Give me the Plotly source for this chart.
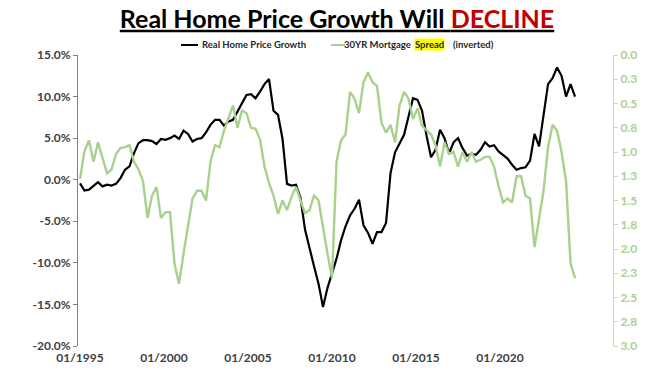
import plotly.graph_objects as go

# ---- data (sampled every 3 months starting 01/1995) ----
real_home_price_growth = [
    -0.45, -1.3, -1.2, -0.7, -0.3, -0.8, -0.6, -0.7, -0.5, 0.2,
    1.2, 1.6, 3.2, 4.4, 4.75, 4.75, 4.65, 4.3, 4.9, 4.8,
    5.0, 5.3, 4.9, 5.9, 5.5, 4.6, 4.9, 5.0, 5.7, 6.6,
    7.2, 7.2, 6.5, 7.0, 7.2, 8.2, 9.2, 10.2, 10.3, 9.8,
    10.6, 11.5, 12.1, 8.3, 7.8, 4.9, -0.5, -0.7, -0.6, -2.2,
    -6.0, -8.4, -10.4, -12.5, -15.3, -13.0, -11.3, -9.5, -7.3, -5.6,
    -4.3, -3.5, -2.4, -5.5, -6.4, -7.7, -6.3, -6.3, -5.2, 0.8,
    3.3, 4.4, 5.4, 7.6, 9.8, 9.6, 8.3, 5.3, 2.7, 3.6,
    6.0, 5.0, 3.15, 4.5, 5.0, 3.8, 2.9, 3.1, 3.0, 3.6,
    4.5, 4.0, 4.15, 3.4, 3.0, 2.55, 1.8, 1.2, 1.4, 1.5,
    2.3, 5.5, 4.0, 8.0, 11.5, 12.2, 13.5, 12.5, 10.0, 11.5,
    10.0,
]
mortgage_spread = [
    1.28, 0.99, 0.88, 1.10, 0.90, 1.05, 1.22, 1.18, 1.02, 0.96,
    0.95, 0.93, 1.10, 1.18, 1.30, 1.68, 1.45, 1.36, 1.68, 1.62,
    1.62, 2.15, 2.36, 2.05, 1.75, 1.48, 1.40, 1.40, 1.50, 1.10,
    0.93, 0.95, 0.78, 0.66, 0.52, 0.75, 0.57, 0.60, 0.75, 0.76,
    0.87, 1.15, 1.32, 1.45, 1.64, 1.50, 1.60, 1.46, 1.36, 1.50,
    1.63, 1.60, 1.45, 1.50, 1.80, 2.05, 2.30, 1.10, 0.88, 0.82,
    0.38, 0.45, 0.60, 0.28, 0.18, 0.28, 0.32, 0.70, 0.80, 0.72,
    0.90, 0.52, 0.38, 0.45, 0.66, 0.55, 0.73, 0.78, 0.82, 0.93,
    1.15, 0.90, 1.02, 1.00, 1.15, 1.00, 1.10, 1.00, 1.10, 1.08,
    1.05, 1.05, 1.15, 1.35, 1.52, 1.48, 1.52, 1.25, 1.25, 1.45,
    1.48, 1.98, 1.70, 1.40, 0.95, 0.72, 0.78, 1.00, 1.30, 2.15,
    2.30,
]
x_tick_labels = ["01/1995", "01/2000", "01/2005", "01/2010", "01/2015", "01/2020"]
left_ticks = [15, 10, 5, 0, -5, -10, -15, -20]
right_ticks = [0, 0.25, 0.5, 0.75, 1.0, 1.25, 1.5, 1.75, 2.0, 2.25, 2.5, 2.75, 3.0]

STEP = 3  # months between samples
months = list(range(0, STEP * len(real_home_price_growth), STEP))
months_g = list(range(0, STEP * len(mortgage_spread), STEP))

GREEN = "#a9d18e"
FONT = "Lato"

fig = go.Figure()
fig.add_trace(go.Scatter(x=months_g, y=mortgage_spread, mode="lines", yaxis="y2",
                         line=dict(color=GREEN, width=2.4), name="30YR Mortgage Spread (inverted)"))
fig.add_trace(go.Scatter(x=months, y=real_home_price_growth, mode="lines", xaxis="x", yaxis="y",
                         line=dict(color="#000000", width=2.2), name="Real Home Price Growth"))

XR = [-1.33, 355.3]
label_step = 56
fig.update_layout(
    width=660, height=380,
    margin=dict(l=78, r=47, t=55, b=34),
    paper_bgcolor="white", plot_bgcolor="white",
    showlegend=False,
    font=dict(family=FONT, color="#404040"),
    xaxis=dict(range=XR, showgrid=False, zeroline=False, showline=False, ticks="",
               tickvals=[i * label_step for i in range(len(x_tick_labels))],
               ticktext=x_tick_labels, automargin=False, ticklabelstandoff=3,
               tickfont=dict(size=12, family=FONT, color="#404040", weight="bold")),
    xaxis2=dict(range=XR, overlaying="x", anchor="free", position=20 / 35, side="bottom",
                showgrid=False, zeroline=False, showline=True, linecolor="#7f7f7f", linewidth=1.3,
                ticks="outside", ticklen=4, tickcolor="#7f7f7f", tickwidth=1,
                tickvals=list(range(60, 355, 60)), showticklabels=False),
    yaxis=dict(range=[-20, 15], showgrid=False, zeroline=False, showline=True, automargin=False,
               linecolor="#7f7f7f", linewidth=1, ticks="outside", ticklen=4, tickcolor="#7f7f7f",
               tickvals=left_ticks, ticktext=[f"{v:.1f}%" for v in left_ticks],
               tickfont=dict(size=12, family=FONT, color="#404040", weight="bold")),
    yaxis2=dict(range=[3, 0], overlaying="y", side="right", showgrid=False, zeroline=False,
                showline=True, linecolor="#c5e0b4", linewidth=1, ticks="outside", ticklen=4,
                tickcolor="#c5e0b4", automargin=False,
                tickvals=right_ticks, ticktext=[f"{v:.1f}" if v * 100 % 50 == 0 else f"{v + 0.001:.1f}" for v in right_ticks],
                tickfont=dict(size=12, family=FONT, color=GREEN, weight="bold")),
    title=dict(text="<u><b>Real Home Price Growth Will <span style='color:#c00000'>DECLINE</span></b></u>",
               x=337 / 660, xanchor="center", y=1 - 19 / 380, yanchor="middle",
               font=dict(size=25, family=FONT, color="#000000")),
)

# legend built manually (paper coordinates)
def px_x(px):
    return (px - 78) / 535

def px_y(py):
    return (346 - py) / 291

LY = 45
legend_font = dict(size=9.5, family=FONT, color="#262626", weight="bold")
fig.add_shape(type="line", xref="paper", yref="paper", x0=px_x(181), x1=px_x(198), y0=px_y(LY), y1=px_y(LY),
              line=dict(color="#000000", width=2))
fig.add_shape(type="line", xref="paper", yref="paper", x0=px_x(331), x1=px_x(345), y0=px_y(LY), y1=px_y(LY),
              line=dict(color=GREEN, width=2))
fig.add_annotation(xref="paper", yref="paper", x=px_x(200), y=px_y(LY), xanchor="left", yanchor="middle",
                   text="Real Home Price Growth", showarrow=False, font=legend_font)
fig.add_annotation(xref="paper", yref="paper", x=px_x(413), y=px_y(LY), xanchor="right", yanchor="middle",
                   text="30YR Mortgage", showarrow=False, font=legend_font)
fig.add_annotation(xref="paper", yref="paper", x=px_x(414), y=px_y(LY), xanchor="left", yanchor="middle",
                   text="Spread", showarrow=False, font=legend_font, bgcolor="#ffff00", borderpad=0)
fig.add_annotation(xref="paper", yref="paper", x=px_x(451), y=px_y(LY), xanchor="left", yanchor="middle",
                   text="(inverted)", showarrow=False, font=legend_font)

fig.write_html("out.html", config={"displayModeBar": False},
               post_script="document.body.style.margin='0';document.body.style.overflow='hidden';")
